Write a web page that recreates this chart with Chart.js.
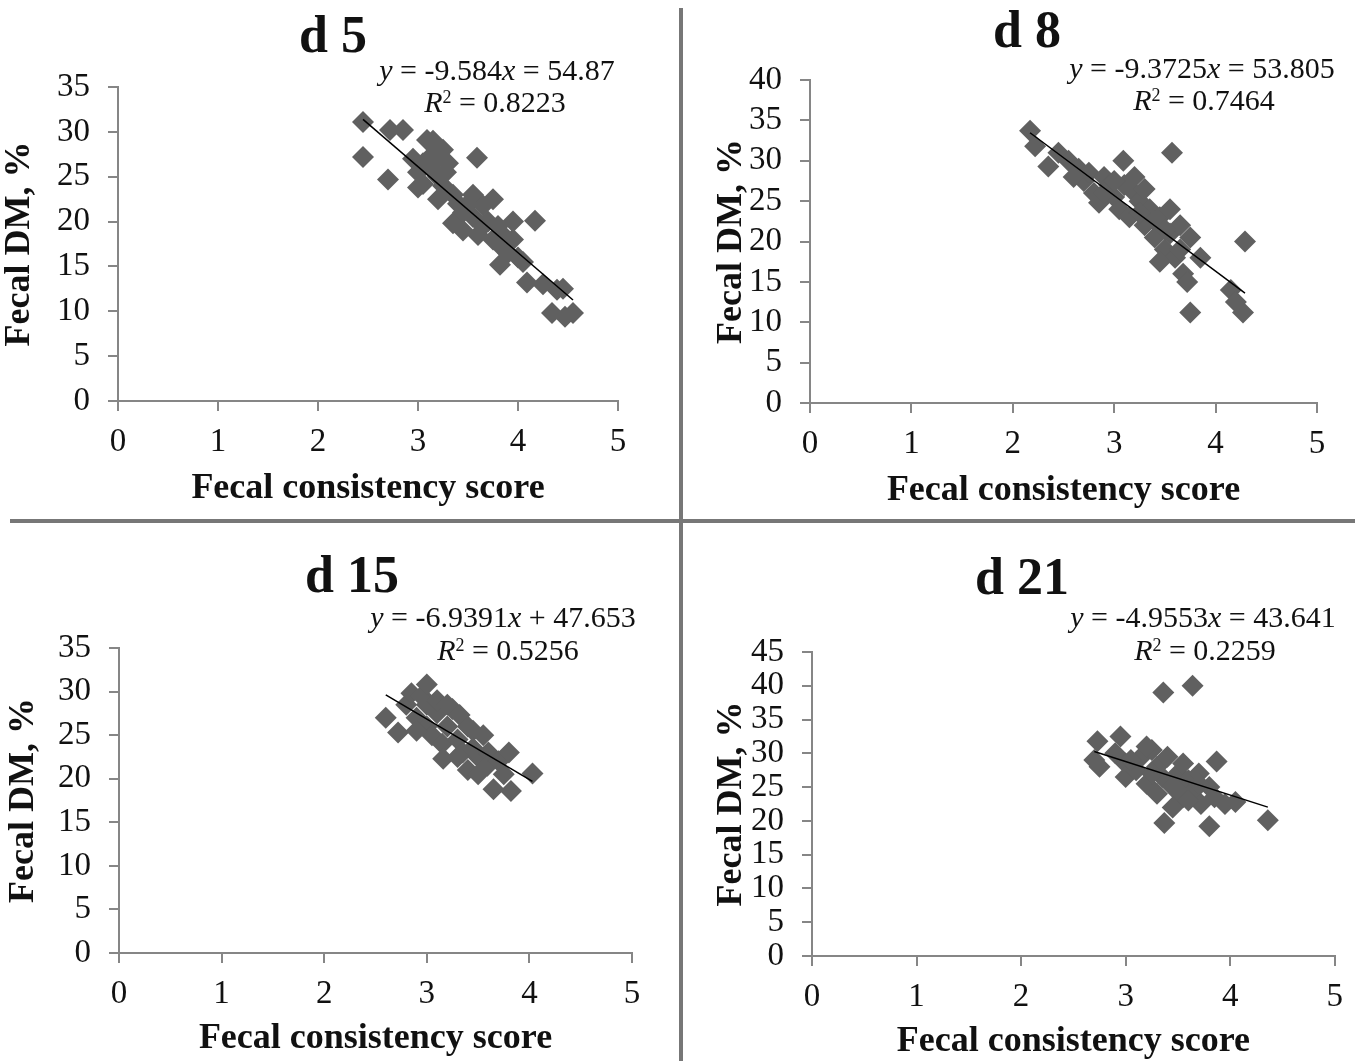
<!DOCTYPE html>
<html>
<head>
<meta charset="utf-8">
<script src="https://cdn.jsdelivr.net/npm/chart.js@4.4.1/dist/chart.umd.min.js"></script>
<style>
  body { margin: 0; background: #fff; }
  #page { position: relative; width: 1355px; height: 1061px; overflow: hidden; background: #fff; font-family: "Liberation Serif", "Times New Roman", serif; }
  canvas { position: absolute; }
  .ttl { position: absolute; width: 200px; height: 60px; line-height: 60px; text-align: center; font-weight: bold; font-size: 52px; color: #111; }
  .eq { position: absolute; width: 340px; height: 34px; line-height: 34px; text-align: center; font-size: 30px; color: #111; white-space: nowrap; }
  .eq sup { font-size: 0.6em; vertical-align: 0.5em; line-height: 0; }
  .vline { position: absolute; left: 679px; top: 8px; width: 4px; height: 1053px; background: #777; }
  .hline { position: absolute; left: 10px; top: 519px; width: 1345px; height: 4px; background: #777; }
</style>
</head>
<body>
<div id="page">
  <div class="vline"></div>
  <div class="hline"></div>
  <canvas id="c5" width="680" height="519" style="left:0;top:0"></canvas>
  <canvas id="c8" width="672" height="519" style="left:683px;top:0"></canvas>
  <canvas id="c15" width="680" height="537" style="left:0;top:524px"></canvas>
  <canvas id="c21" width="672" height="537" style="left:683px;top:524px"></canvas>
</div>
<script>
// data
const d5X = [2.45,2.45,2.72,2.85,2.70,2.95,3.00,3.05,3.09,3.15,3.12,3.20,3.25,3.30,3.00,3.20,3.35,3.45,3.50,3.45,3.55,3.59,3.60,3.65,3.70,3.75,3.75,3.80,3.82,3.85,3.90,3.95,3.95,4.00,4.05,4.09,4.17,4.25,4.39,4.34,4.45,4.47,4.55,3.25,3.35,3.55,3.05,3.15,3.20,3.28,3.40,3.65,3.85];
const d5Y = [31.1,27.2,30.2,30.2,24.7,27.0,25.5,24.2,29.1,27.5,26.0,25.0,24.0,26.5,23.8,22.5,19.8,21.0,22.0,19.0,20.5,27.1,18.5,21.8,20.0,22.5,18.0,19.5,15.2,17.0,16.5,20.0,18.0,16.0,15.5,13.2,20.1,13.0,12.4,9.8,12.5,9.4,9.8,28.0,23.0,23.0,26.5,29.0,27.0,25.5,22.0,19.5,18.5];

const d8X = [2.17,2.22,2.35,2.45,2.55,2.65,2.70,2.75,2.80,2.85,2.90,2.95,3.00,3.09,3.05,3.10,3.15,3.20,3.25,3.30,3.30,3.35,3.40,3.45,3.50,3.55,3.55,3.57,3.60,3.65,3.68,3.72,3.75,3.75,3.85,4.15,4.20,4.27,4.29,3.45,3.20,2.60,2.90,3.00,3.25,3.40,3.50,3.65];
const d8Y = [33.7,31.8,29.3,31.0,30.0,29.0,27.5,28.5,26.0,24.8,28.0,27.0,25.5,30.0,24.0,27.0,23.0,26.0,25.0,26.5,22.0,24.0,20.5,23.0,19.0,24.0,21.0,31.0,18.0,22.0,16.0,15.0,20.5,11.2,18.0,14.0,12.5,11.2,20.0,17.5,28.0,28.0,26.0,27.5,23.5,22.5,21.5,19.0];

const d15X = [2.60,2.72,2.80,2.85,2.90,2.95,3.00,3.00,3.05,3.10,3.15,3.16,3.20,3.25,3.32,3.30,3.35,3.40,3.40,3.45,3.50,3.50,3.55,3.60,3.59,3.65,3.70,3.75,3.80,3.82,4.03,3.00,2.90,3.10,3.20,3.45,3.30];
const d15Y = [27.0,25.3,28.5,29.8,27.0,29.5,30.8,26.0,25.0,27.5,24.0,22.3,26.0,28.0,27.3,24.5,23.0,21.0,26.0,25.5,22.5,20.5,25.0,23.0,21.5,18.8,22.0,20.5,23.0,18.6,20.6,28.5,25.5,29.0,28.5,23.5,22.5];

const d21X = [2.73,2.70,2.75,2.90,2.95,3.00,3.00,3.10,3.15,3.20,3.25,3.30,3.30,3.35,3.36,3.37,3.40,3.45,3.50,3.55,3.55,3.60,3.64,3.65,3.70,3.72,3.80,3.80,3.85,3.87,3.95,4.05,4.36,3.20,3.45,3.05,3.25,3.50,3.60,3.70];
const d21Y = [31.8,29.0,28.0,30.0,32.5,28.5,26.5,27.5,29.5,25.5,30.5,28.0,24.0,26.5,39.0,19.7,29.5,25.0,27.0,28.5,23.5,26.0,40.0,24.5,27.0,22.5,25.0,19.2,23.5,28.8,22.5,22.8,20.1,31.0,22.0,29.0,27.0,24.5,23.0,25.5];

// trendline slope / intercept from the equations
const slopes = [-9.584, -9.3725, -6.9391, -4.9553];
const intercepts = [54.87, 53.805, 47.653, 43.641];
const yMaxes = [35, 40, 35, 45];
const titles = ["d 5", "d 8", "d 15", "d 21"];
const eqLines = ["<i>y</i> = -9.584<i>x</i> = 54.87", "<i>y</i> = -9.3725<i>x</i> = 53.805", "<i>y</i> = -6.9391<i>x</i> + 47.653", "<i>y</i> = -4.9553<i>x</i> = 43.641"];
const r2Lines = ["0.8223", "0.7464", "0.5256", "0.2259"];

// panel layout: canvas id, plot area box (canvas coords), title pads, overlay positions (page coords)
const panels = [
  {id:"c5",  xs:d5X,  ys:d5Y,  padTop:87,  padRight:62, yW:118, xH:118, yTitlePad:2,  xTitlePad:12, title:[333,35],  eq:[497,70],  r2:[495,102]},
  {id:"c8",  xs:d8X,  ys:d8Y,  padTop:80,  padRight:38, yW:127, xH:116, yTitlePad:31, xTitlePad:10, title:[1027,30], eq:[1202,68], r2:[1204,100]},
  {id:"c15", xs:d15X, ys:d15Y, padTop:124, padRight:48, yW:119, xH:108, yTitlePad:6,  xTitlePad:4,  title:[352,575], eq:[503,617], r2:[508,650]},
  {id:"c21", xs:d21X, ys:d21Y, padTop:128, padRight:20, yW:129, xH:105, yTitlePad:31, xTitlePad:1,  title:[1022,577],eq:[1203,617],r2:[1205,650]}
];

const axisGray = "#868686";
const page = document.getElementById("page");

panels.forEach((p, i) => {
  let pts = p.xs.map((x, k) => ({x: x, y: p.ys[k]}));
  let xmin = Math.min(...p.xs), xmax = Math.max(...p.xs);
  let trend = [xmin, xmax].map(x => ({x: x, y: slopes[i] * x + intercepts[i]}));

  new Chart(document.getElementById(p.id), {
    type: "scatter",
    data: {
      datasets: [
        {type: "line", data: trend, borderColor: "#000", borderWidth: 1.5, pointRadius: 0, order: 0},
        {data: pts, pointStyle: "rectRot", pointRadius: 11, backgroundColor: "#606060", borderWidth: 0, order: 1}
      ]
    },
    options: {
      responsive: false,
      animation: false,
      devicePixelRatio: 1,
      layout: {padding: {top: p.padTop, right: p.padRight, left: 0, bottom: 0}},
      plugins: {legend: {display: false}, tooltip: {enabled: false}},
      scales: {
        x: {
          type: "linear", min: 0, max: 5,
          ticks: {stepSize: 1, padding: 12, color: "#111", font: {family: "Liberation Serif", size: 33}},
          grid: {drawOnChartArea: false, drawTicks: true, tickLength: 10, color: axisGray, lineWidth: 2},
          border: {color: axisGray, width: 2},
          title: {display: true, text: "Fecal consistency score", color: "#111",
                  font: {family: "Liberation Serif", size: 36, weight: "bold", lineHeight: 1},
                  padding: {top: 0, bottom: p.xTitlePad}},
          afterFit: s => { s.height = p.xH; }
        },
        y: {
          type: "linear", min: 0, max: yMaxes[i],
          ticks: {stepSize: 5, autoSkip: false, padding: 18, color: "#111", font: {family: "Liberation Serif", size: 33}},
          grid: {drawOnChartArea: false, drawTicks: true, tickLength: 10, color: axisGray, lineWidth: 2},
          border: {color: axisGray, width: 2},
          title: {display: true, text: "Fecal DM, %", color: "#111",
                  font: {family: "Liberation Serif", size: 36, weight: "bold", lineHeight: 1},
                  padding: {top: p.yTitlePad, bottom: 0}},
          afterFit: s => { s.width = p.yW; }
        }
      }
    }
  });

  let t = document.createElement("div");
  t.className = "ttl";
  t.textContent = titles[i];
  t.style.left = (p.title[0] - 100) + "px";
  t.style.top = (p.title[1] - 30) + "px";
  page.appendChild(t);

  let e = document.createElement("div");
  e.className = "eq";
  e.innerHTML = eqLines[i];
  e.style.left = (p.eq[0] - 170) + "px";
  e.style.top = (p.eq[1] - 17) + "px";
  page.appendChild(e);

  let r = document.createElement("div");
  r.className = "eq";
  r.innerHTML = "<i>R</i><sup>2</sup> = " + r2Lines[i];
  r.style.left = (p.r2[0] - 170) + "px";
  r.style.top = (p.r2[1] - 17) + "px";
  page.appendChild(r);
});
</script>
</body>
</html>
